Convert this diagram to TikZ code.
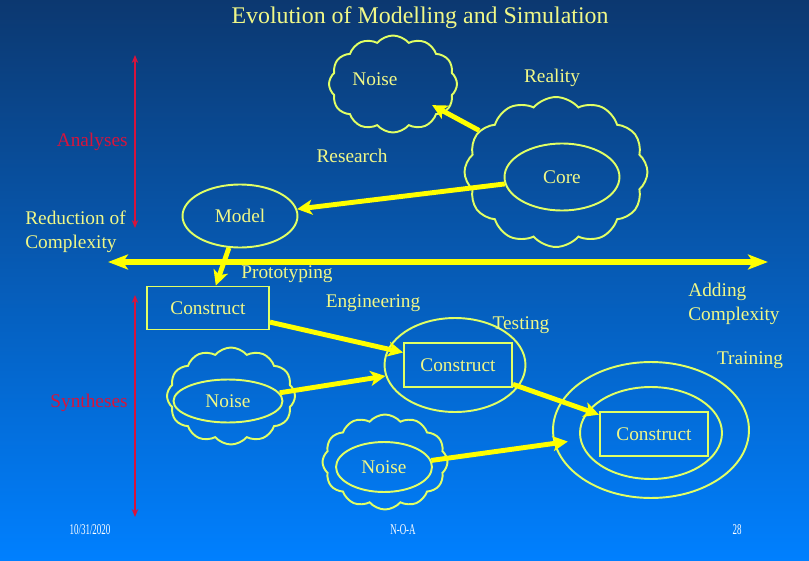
\documentclass[tikz,border=0pt]{standalone}
\usepackage{fontspec}
\setmainfont{Liberation Serif}
\usetikzlibrary{arrows.meta,shapes.geometric,shapes.symbols}
\definecolor{bgtop}{RGB}{12,56,112}
\definecolor{bgbot}{RGB}{0,128,255}
\definecolor{lab}{RGB}{240,248,135}
\definecolor{edge}{RGB}{225,255,100}
\definecolor{arr}{RGB}{255,255,0}
\definecolor{crim}{RGB}{215,20,60}
\tikzset{
  >={Stealth[length=3mm,width=3mm,inset=0.8mm]},
  tx/.style={text=lab,font=\fontsize{11}{13.6}\selectfont,inner sep=0pt},
  ttl/.style={text=lab,font=\fontsize{13.6}{16}\selectfont,inner sep=0pt},
  cl/.style={cloud,cloud puffs=12,cloud puff arc=100,cloud ignores aspect,draw=edge,line width=1.1pt,inner sep=0pt},
  el/.style={ellipse,draw=edge,line width=1.1pt,inner sep=0pt,tx},
  bx/.style={rectangle,draw=edge,line width=1.1pt,inner sep=0pt,tx},
  ar/.style={->,draw=arr,line width=2.8pt},
  hz/.style={<->,draw=arr,line width=3.2pt,>={Stealth[length=4mm,width=3mm,inset=1mm]}},
  rd/.style={<->,draw=crim,line width=1.1pt,>={Stealth[length=1.6mm,width=1.3mm]}},
  ft/.style={text=white,font=\fontsize{8.5}{10}\selectfont,inner sep=0pt,xscale=0.6,transform shape},
}
\begin{document}
\begin{tikzpicture}[x=0.02cm,y=-0.02cm]
\useasboundingbox (0,0) rectangle (809,561);
\shade[top color=bgtop,bottom color=bgbot] (0,0) rectangle (809,561);
% clouds, ellipses and boxes
\node[cl,minimum width=2.56cm,minimum height=1.94cm] (noiseA) at (393,84){};
\node[cl,minimum width=3.66cm,minimum height=3cm] (real) at (556,172){};
\node[cl,minimum width=2.56cm,minimum height=1.94cm] (noiseB) at (231,396){};
\node[cl,minimum width=2.5cm,minimum height=1.9cm] (noiseC) at (385,462){};
\node[el,minimum width=2.3cm,minimum height=1.34cm] (core) at (562,177){Core};
\node[el,minimum width=2.3cm,minimum height=1.26cm] (model) at (240,216){Model};
\node[el,minimum width=2.82cm,minimum height=1.88cm] (test) at (455,365){};
\node[el,minimum width=3.92cm,minimum height=2.72cm] (trainO) at (651,430){};
\node[el,minimum width=2.84cm,minimum height=1.84cm] (trainI) at (651,433){};
\node[el,minimum width=2.18cm,minimum height=0.86cm] (nB) at (228,401){Noise};
\node[el,minimum width=1.92cm,minimum height=1cm] (nC) at (384,467){Noise};
\node[bx,minimum width=2.44cm,minimum height=0.86cm] (conA) at (208,308){Construct};
\node[bx,minimum width=2.16cm,minimum height=0.88cm] (conB) at (458,365){Construct};
\node[bx,minimum width=2.16cm,minimum height=0.88cm] (conC) at (654,434){Construct};
% labels
\node[ttl] (title) at (420,18){Evolution of Modelling and Simulation};
\node[tx] (noiseT) at (375,79){Noise}; \node[tx] (realT) at (552,78){Reality};
\node[tx] (res) at (352,156){Research}; \node[tx] (proto) at (287,274){Prototyping};
\node[tx] (eng) at (373,303){Engineering}; \node[tx] (testT) at (521,325){Testing};
\node[tx] (trainT) at (750,360){Training};
\node[tx,anchor=west,align=left] (redc) at (25,232){Reduction of\\Complexity};
\node[tx,anchor=west,align=left] (addc) at (688,304){Adding\\Complexity};
\node[tx,text=crim,anchor=east] (ana) at (128,142){Analyses};
\node[tx,text=crim,anchor=east] (syn) at (128,403){Syntheses};
\node[ft] (date) at (90,530){10/31/2020}; \node[ft] (org) at (403,530){N-O-A};
\node[ft] (page) at (737,530){28};
\coordinate (hl) at (108,262); \coordinate (hr) at (768,262);
\coordinate (aT) at (135,55); \coordinate (aB) at (135,228);
\coordinate (sT) at (135,295); \coordinate (sB) at (135,517);
% connectors
\draw[ar,shorten >=-0.3cm] (real)--(noiseA); \draw[ar] (core)--(model); \draw[ar] (model)--(conA);
\draw[ar] (conA)--(conB); \draw[ar] (conB)--(conC); \draw[ar] (nB)--(test);
\draw[ar,shorten >=-0.28cm] (nC)--(trainO);
\draw[hz] (hl)--(hr);
\draw[rd] (aT)--(aB); \draw[rd] (sT)--(sB);
\end{tikzpicture}
\end{document}
